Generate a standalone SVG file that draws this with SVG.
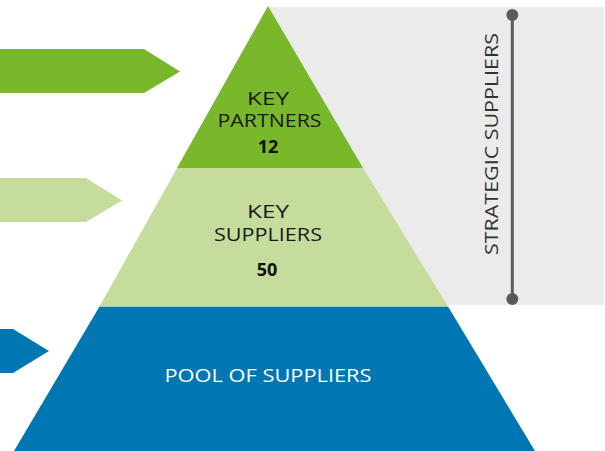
<svg xmlns="http://www.w3.org/2000/svg" width="605" height="451" viewBox="0 0 605 451">
<style>
.lbl{font-family:"Open Sans","Liberation Sans",sans-serif;font-size:17.5px;fill:#1a1a1a;text-anchor:middle}
.num{font-family:"Open Sans","Liberation Sans",sans-serif;font-size:18px;font-weight:700;fill:#111;text-anchor:middle}
.pool{font-family:"Open Sans","Liberation Sans",sans-serif;font-size:18px;fill:#ffffff;text-anchor:middle}
.strat{font-family:"Open Sans","Liberation Sans",sans-serif;font-size:19px;fill:#333333;text-anchor:middle}
</style>
<rect x="0" y="0" width="605" height="451" fill="#ffffff"/>
<rect id="strategic-band" x="269" y="7" width="335" height="298" fill="#ebebeb"/>
<g id="arrows">
<polygon points="0,49 144,49 180,71.5 144,93 0,93" fill="#78b82a"/>
<polygon points="0,178 86,178 122,200.5 86,222 0,222" fill="#c5dc9c"/>
<polygon points="0,329 13,329 49,351 13,373 0,373" fill="#0077b3"/>
</g>
<g id="pool">
<polygon points="99.5,306.5 448,306.5 535,451 14,451" fill="#0077b3"/>
<text class="pool" x="268" y="382" textLength="207" lengthAdjust="spacingAndGlyphs">POOL OF SUPPLIERS</text>
</g>
<g id="key-suppliers">
<polygon points="177,168 363,168 448,306.5 99.5,306.5" fill="#c5dc9c"/>
<text class="lbl" x="268" y="218" textLength="42" lengthAdjust="spacingAndGlyphs">KEY</text>
<text class="lbl" x="268" y="240.5" textLength="108" lengthAdjust="spacingAndGlyphs">SUPPLIERS</text>
<text class="num" x="267" y="276">50</text>
</g>
<g id="key-partners">
<polygon points="268,6 363,168 177,168" fill="#78b82a"/>
<text class="lbl" x="268" y="104.5" textLength="42" lengthAdjust="spacingAndGlyphs">KEY</text>
<text class="lbl" x="269.5" y="127" textLength="104" lengthAdjust="spacingAndGlyphs">PARTNERS</text>
<text class="num" x="268" y="152.5">12</text>
</g>
<g id="connectors">
<line x1="512.3" y1="15" x2="512.3" y2="299" stroke="#5a5a5a" stroke-width="3"/>
<circle cx="512.3" cy="15" r="6" fill="#5a5a5a"/>
<circle cx="512.3" cy="299" r="6" fill="#5a5a5a"/>
</g>
<g id="strategic-label">
<text class="strat" transform="translate(498,144) rotate(-90)" x="0" y="0" textLength="222" lengthAdjust="spacingAndGlyphs">STRATEGIC SUPPLIERS</text>
</g>
</svg>
